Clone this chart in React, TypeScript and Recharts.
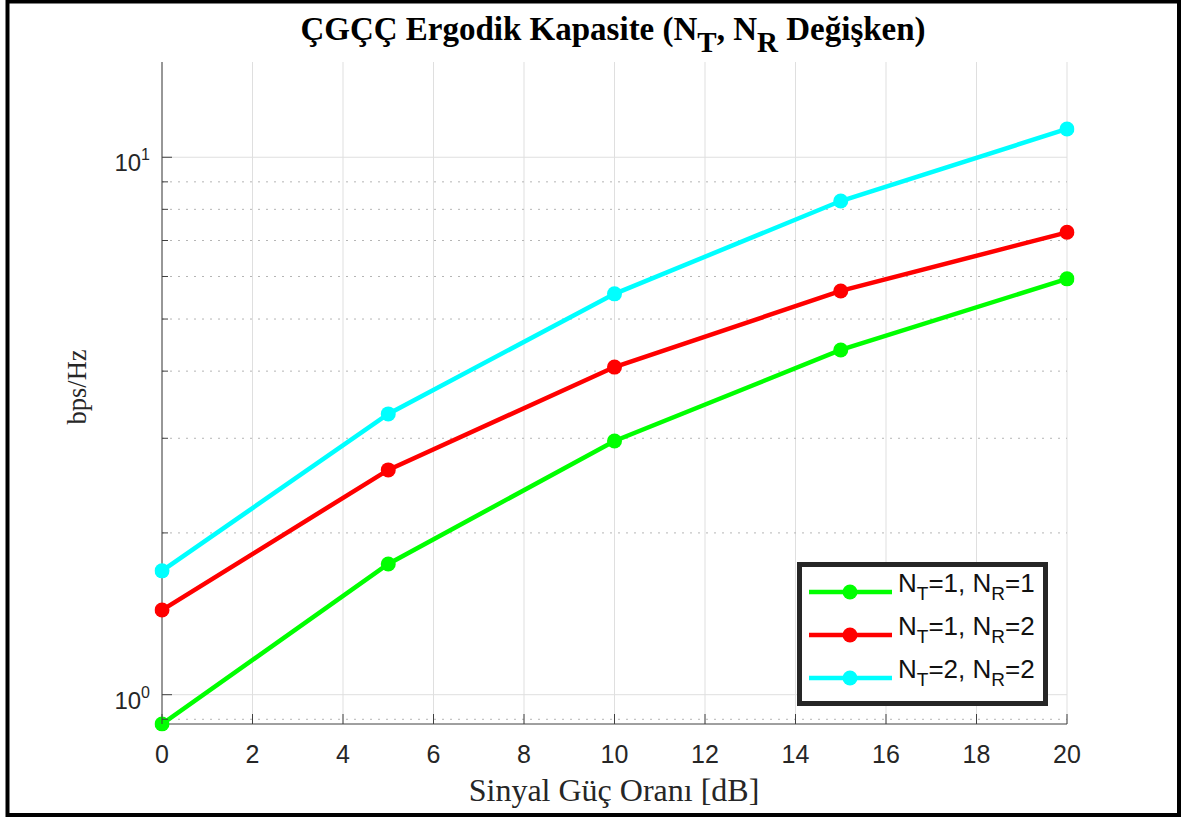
import React from "react";
import {
  CartesianGrid,
  Legend,
  Line,
  LineChart,
  ReferenceLine,
  XAxis,
  YAxis,
} from "recharts";

// SNR values (dB) and ergodic capacity (bps/Hz)
const snrDb = [0, 5, 10, 15, 20];
const capNt1Nr1 = [0.882, 1.751, 2.966, 4.38, 5.94];
const capNt1Nr2 = [1.437, 2.62, 4.07, 5.64, 7.25];
const capNt2Nr2 = [1.7, 3.33, 5.57, 8.29, 11.29];

const xTicks = [0, 2, 4, 6, 8, 10, 12, 14, 16, 18, 20];
const yTicks = [0.9, 1, 2, 3, 4, 5, 6, 7, 8, 9, 10];
const yMajor = [1, 10];
const yDomain: [number, number] = [0.882, 15.04];

const series = [
  { key: "c11", color: "#00ff00", nt: "1", nr: "1" },
  { key: "c12", color: "#ff0000", nt: "1", nr: "2" },
  { key: "c22", color: "#00ffff", nt: "2", nr: "2" },
];

const data = snrDb.map((snr, i) => ({
  snr,
  c11: capNt1Nr1[i],
  c12: capNt1Nr2[i],
  c22: capNt2Nr2[i],
}));

const AXIS = "#404040";
const TEXT = "#262626";
const SANS = "Arial, 'Liberation Sans', sans-serif";
const SERIF = "'Times New Roman', 'Liberation Serif', serif";

function LeftTick(props: any) {
  const { x, y, payload } = props;
  const v = payload.value;
  const major = yMajor.includes(v);
  return (
    <g>
      <line x1={x} x2={x + (major ? 10 : 6)} y1={y} y2={y} stroke={AXIS} />
      {major && (
        <text
          x={x - 12}
          y={y + 14}
          textAnchor="end"
          fontFamily={SANS}
          fontSize={24}
          fill={TEXT}
        >
          10
          <tspan dy={-11} fontSize={16}>
            {Math.round(Math.log10(v))}
          </tspan>
        </text>
      )}
    </g>
  );
}

function RightTick(props: any) {
  const { x, y, payload } = props;
  const major = yMajor.includes(payload.value);
  return <line x1={x} x2={x - (major ? 10 : 6)} y1={y} y2={y} stroke={AXIS} />;
}

function BottomTick(props: any) {
  const { x, y, payload } = props;
  return (
    <g>
      <line x1={x} x2={x} y1={y} y2={y - 10} stroke={AXIS} />
      <text
        x={x}
        y={y + 39}
        textAnchor="middle"
        fontFamily={SANS}
        fontSize={25}
        fill={TEXT}
      >
        {payload.value}
      </text>
    </g>
  );
}

function TopTick(props: any) {
  const { x, y } = props;
  return <line x1={x} x2={x} y1={y} y2={y + 10} stroke={AXIS} />;
}

function LegendBox() {
  const sub = { fontSize: 19, verticalAlign: -8 };
  return (
    <div
      style={{
        boxSizing: "border-box",
        width: 251,
        height: 144,
        border: `5px solid ${TEXT}`,
        background: "#fff",
        paddingTop: 3,
      }}
    >
      {series.map((s) => (
        <div
          key={s.key}
          style={{ height: 43, display: "flex", alignItems: "center" }}
        >
          <svg width={96} height={20} style={{ flex: "none" }}>
            <line x1={7} x2={90} y1={10} y2={10} stroke={s.color} strokeWidth={4.5} />
            <circle cx={48} cy={10} r={7.5} fill={s.color} />
          </svg>
          <span
            style={{
              fontFamily: SANS,
              fontSize: 26,
              color: "#111",
              whiteSpace: "nowrap",
              lineHeight: "26px",
              marginTop: -6,
            }}
          >
            N<sub style={sub}>T</sub>={s.nt}, N<sub style={sub}>R</sub>={s.nr}
          </span>
        </div>
      ))}
    </div>
  );
}

export default function App() {
  return (
    <div
      style={{
        position: "absolute",
        left: 0,
        top: 0,
        width: 1181,
        height: 818,
        background: "#fff",
        overflow: "hidden",
      }}
    >
      <div style={{ position: "absolute", left: 0, top: 0 }}>
        <LineChart
          width={1181}
          height={818}
          data={data}
          margin={{ top: 62, right: 114, bottom: 54, left: 102 }}
        >
          <CartesianGrid
            xAxisId="bottom"
            yAxisId="left"
            horizontal={false}
            stroke="#dfdfdf"
          />
          <XAxis
            xAxisId="bottom"
            dataKey="snr"
            type="number"
            domain={[0, 20]}
            ticks={xTicks}
            interval={0}
            height={40}
            tickSize={0}
            tickMargin={0}
            tickLine={false}
            axisLine={{ stroke: AXIS }}
            tick={(p: any) => <BottomTick {...p} />}
          />
          <XAxis
            xAxisId="top"
            orientation="top"
            type="number"
            domain={[0, 20]}
            ticks={xTicks}
            interval={0}
            height={0}
            tickSize={0}
            tickMargin={0}
            tickLine={false}
            axisLine={{ stroke: AXIS }}
            tick={(p: any) => <TopTick {...p} />}
          />
          <YAxis
            yAxisId="left"
            scale="log"
            type="number"
            domain={yDomain}
            allowDataOverflow
            ticks={yTicks}
            interval={0}
            width={60}
            tickSize={0}
            tickMargin={0}
            tickLine={false}
            axisLine={{ stroke: AXIS }}
            tick={(p: any) => <LeftTick {...p} />}
          />
          <YAxis
            yAxisId="right"
            orientation="right"
            scale="log"
            type="number"
            domain={yDomain}
            allowDataOverflow
            ticks={yTicks}
            interval={0}
            width={0}
            tickSize={0}
            tickMargin={0}
            tickLine={false}
            axisLine={{ stroke: AXIS }}
            tick={(p: any) => <RightTick {...p} />}
          />
          {yTicks.map((v) => (
            <ReferenceLine
              key={v}
              xAxisId="bottom"
              yAxisId="left"
              y={v}
              stroke={yMajor.includes(v) ? "#dfdfdf" : "#b5b5b5"}
              strokeDasharray={yMajor.includes(v) ? undefined : "2 6"}
            />
          ))}
          {series.map((s) => (
            <Line
              key={s.key}
              xAxisId="bottom"
              yAxisId="left"
              dataKey={s.key}
              stroke={s.color}
              strokeWidth={4.5}
              dot={{
                r: 7.5,
                fill: s.color,
                stroke: s.color,
                strokeWidth: 0,
                clipDot: false,
              }}
              activeDot={false}
              isAnimationActive={false}
            />
          ))}
          <Legend
            layout="horizontal"
            verticalAlign="middle"
            align="center"
            wrapperStyle={{ left: 797, top: 562, width: 251, height: 144 }}
            content={() => <LegendBox />}
          />
        </LineChart>
      </div>
      <svg
        width={1181}
        height={818}
        style={{ position: "absolute", left: 0, top: 0, pointerEvents: "none" }}
      >
        <text
          x={613}
          y={40}
          textAnchor="middle"
          fontFamily={SERIF}
          fontWeight="bold"
          fontSize={33}
          fill="#000"
        >
          ÇGÇÇ Ergodik Kapasite (N
          <tspan dy={12} fontSize={29}>T</tspan>
          <tspan dy={-12}>, N</tspan>
          <tspan dy={12} fontSize={29}>R</tspan>
          <tspan dy={-12}> Değişken)</tspan>
        </text>
        <text
          x={614}
          y={801}
          textAnchor="middle"
          fontFamily={SERIF}
          fontSize={32}
          fill={TEXT}
        >
          Sinyal Güç Oranı [dB]
        </text>
        <text
          x={86}
          y={387}
          textAnchor="middle"
          fontFamily={SERIF}
          fontSize={26.5}
          fill={TEXT}
          transform="rotate(-90 86 387)"
        >
          bps/Hz
        </text>
        <rect
          x={7.5}
          y={1.5}
          width={1171.5}
          height={813.5}
          fill="none"
          stroke="#000"
          strokeWidth={4}
        />
      </svg>
    </div>
  );
}
